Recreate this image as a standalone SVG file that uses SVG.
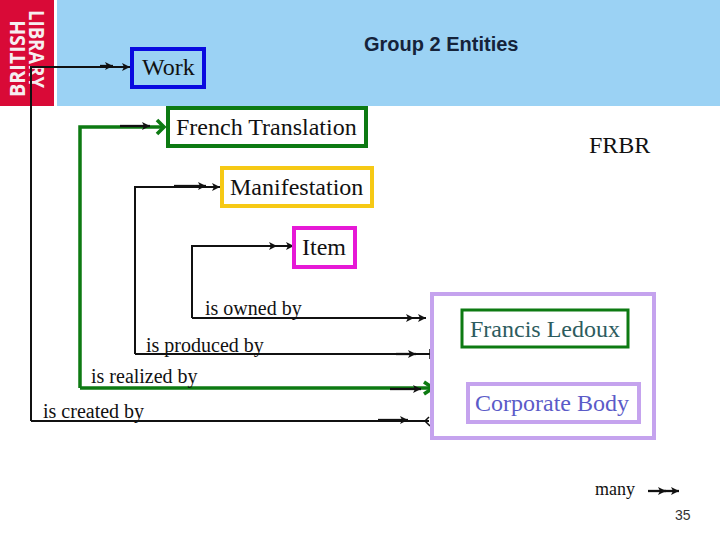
<svg xmlns="http://www.w3.org/2000/svg" width="720" height="540" viewBox="0 0 720 540">
<style>
.t{font-family:"Liberation Serif","Times New Roman",serif;fill:#111}
.n{font-size:24px}
.l{font-size:20px}
.k{fill:none;stroke:#111;stroke-width:2}
.g{fill:none;stroke:#0d7a12;stroke-width:3.5}
.s{fill:none;stroke:#111;stroke-width:2.3}
</style>
<defs>
<marker id="a" markerUnits="userSpaceOnUse" markerWidth="10" markerHeight="10" refX="8" refY="5" orient="auto"><path d="M0 1L8 5L0 9L2 5Z" fill="#111"/></marker>
</defs>
<rect x="57" y="0" width="663" height="106" fill="#9bd2f4"/>
<rect x="0" y="0" width="54" height="106" fill="#d90a37"/>
<g fill="#f6eef0" font-family="'Open Sans','Noto Sans',sans-serif" font-weight="700" font-size="21">
<text transform="translate(25,97) rotate(-90)" textLength="77" lengthAdjust="spacingAndGlyphs">BRITISH</text>
<text transform="translate(29,10) rotate(90)" textLength="78" lengthAdjust="spacingAndGlyphs">LIBRARY</text>
</g>
<text x="364" y="51" font-family="'Liberation Sans',Arial,sans-serif" font-weight="700" font-size="20" fill="#15233a">Group 2 Entities</text>
<g id="connectors">
<path class="k" d="M31 421V67H130" marker-end="url(#a)"/>
<path class="k" d="M31 421H429"/>
<path class="g" d="M80 388V127H163"/>
<path d="M157 120L164 127L157 134" fill="none" stroke="#0d7a12" stroke-width="3.6"/>
<path class="g" d="M80 388H431"/>
<path d="M424 382L433 388L424 394" fill="none" stroke="#0d7a12" stroke-width="3.6"/>
<path class="k" d="M135 354V187H220" marker-end="url(#a)"/>
<path class="k" d="M135 354H430"/>
<path class="k" d="M192 318V246H294" marker-end="url(#a)"/>
<path class="k" d="M192 318H426" marker-end="url(#a)"/>
<path d="M429 417L425 421L430 426" fill="none" stroke="#111" stroke-width="1.5"/>
<path d="M430 349V359" stroke="#111" stroke-width="1.5"/>
<path class="s" d="M100 66H113" marker-end="url(#a)"/>
<path class="s" d="M120 126H150" marker-end="url(#a)"/>
<path class="s" d="M174 186H206" marker-end="url(#a)"/>
<path class="k" d="M270 246H277" marker-end="url(#a)"/>
<path class="k" d="M400 318H414" marker-end="url(#a)"/>
<path class="s" d="M396 354H416" marker-end="url(#a)"/>
<path class="s" d="M390 389H421" marker-end="url(#a)"/>
<path class="s" d="M378 420H408" marker-end="url(#a)"/>
<path class="s" d="M648 491H666" marker-end="url(#a)"/>
<path class="s" d="M660 491H679" marker-end="url(#a)"/>
</g>
<g id="work"><rect x="132" y="49" width="72" height="38" fill="none" stroke="#0a0ae0" stroke-width="4"/><text class="t n" x="142" y="75">Work</text></g>
<g id="french"><rect x="168" y="108" width="198" height="38" fill="#fff" stroke="#0d7a12" stroke-width="4"/><text class="t n" x="176" y="135">French Translation</text></g>
<g id="manifestation"><rect x="222" y="168" width="150" height="38" fill="#fff" stroke="#f6c915" stroke-width="4"/><text class="t n" x="230" y="195">Manifestation</text></g>
<g id="item"><rect x="294" y="228" width="61" height="39" fill="#fff" stroke="#e619d6" stroke-width="4"/><text class="t n" x="302" y="255">Item</text></g>
<g id="group"><rect x="432" y="294" width="222" height="144" fill="#fff" stroke="#c5a3ee" stroke-width="4"/></g>
<g id="francis"><rect x="462" y="310" width="166" height="37" fill="#fff" stroke="#0d7a12" stroke-width="3"/><text x="470" y="337" font-family="'Liberation Serif',serif" font-size="24" fill="#2d5c5e">Francis Ledoux</text></g>
<g id="corporate"><rect x="468" y="384" width="171" height="38" fill="#fff" stroke="#c5a3ee" stroke-width="4"/><text x="475" y="411" font-family="'Liberation Serif',serif" font-size="24" fill="#5b5bc8">Corporate Body</text></g>
<text class="t n" x="589" y="153">FRBR</text>
<text class="t l" x="205" y="315">is owned by</text>
<text class="t l" x="146" y="352">is produced by</text>
<text class="t l" x="91" y="383">is realized by</text>
<text class="t l" x="43" y="418">is created by</text>
<text class="t" font-size="18" x="595" y="495">many</text>
<text x="675" y="520" font-family="'Liberation Sans',Arial,sans-serif" font-size="14" fill="#333">35</text>
</svg>
